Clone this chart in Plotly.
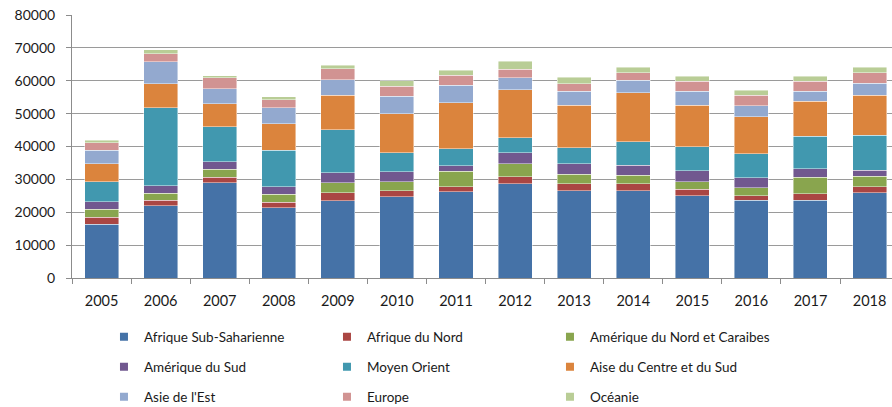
import plotly.graph_objects as go

years = ["2005", "2006", "2007", "2008", "2009", "2010", "2011",
         "2012", "2013", "2014", "2015", "2016", "2017", "2018"]

afrique_sub_saharienne = [16400, 22000, 28900, 21400, 23550, 24650, 26200, 28700, 26600, 26600, 25050, 23650, 23650, 25900]
afrique_du_nord = [2150, 1600, 1800, 1700, 2350, 1950, 1500, 2050, 2050, 2050, 1950, 1400, 1950, 1850]
amerique_nord_caraibes = [2300, 2250, 2350, 2350, 3050, 2750, 4700, 3950, 2950, 2650, 2350, 2450, 5050, 3150]
amerique_du_sud = [2350, 2250, 2250, 2350, 3050, 2950, 1800, 3350, 3150, 2950, 3350, 2950, 2550, 1900]
moyen_orient = [6100, 23650, 10750, 11050, 13100, 5800, 5100, 4650, 4850, 7200, 7300, 7300, 9850, 10650]
asie_centre_sud = [5400, 7400, 6900, 8000, 10550, 11900, 14000, 14500, 13000, 14900, 12600, 11350, 10650, 12200]
asie_est = [4150, 6700, 4550, 4900, 4650, 5300, 5400, 3750, 4150, 3850, 4150, 3350, 3050, 3550]
europe = [2250, 2350, 3350, 2450, 3350, 3050, 3050, 2550, 2350, 2250, 3150, 3150, 3150, 3250]
oceanie = [800, 1200, 700, 1000, 1100, 1600, 1500, 2450, 1950, 1650, 1500, 1500, 1500, 1650]

series = [
    ("Afrique Sub-Saharienne", afrique_sub_saharienne, "#4572A7", "legend"),
    ("Afrique du Nord", afrique_du_nord, "#AA4643", "legend"),
    ("Amérique du Nord et Caraibes", amerique_nord_caraibes, "#89A54E", "legend"),
    ("Amérique du Sud", amerique_du_sud, "#71588F", "legend2"),
    ("Moyen Orient", moyen_orient, "#4198AF", "legend2"),
    ("Aise du Centre et du Sud", asie_centre_sud, "#DB843D", "legend2"),
    ("Asie de l'Est", asie_est, "#93A9CF", "legend3"),
    ("Europe", europe, "#D19392", "legend3"),
    ("Océanie", oceanie, "#B9CD96", "legend3"),
]

FONT = "Lato"
TXT = "#1a1a1a"
fig = go.Figure()
for name, vals, color, lg in series:
    fig.add_trace(go.Bar(
        x=years, y=vals, name=name, showlegend=False,
        marker=dict(color=color, line=dict(color="rgba(255,255,255,0.55)", width=0.8)),
    ))
# legend proxies (small square swatches)
for name, vals, color, lg in series:
    fig.add_trace(go.Scatter(
        x=[None], y=[None], mode="markers", name=name, legend=lg,
        marker=dict(symbol="square", size=8, color=color),
    ))

leg_common = dict(orientation="h", entrywidth=178, entrywidthmode="pixels",
                  font=dict(family=FONT, size=13.5, color=TXT),
                  bgcolor="rgba(0,0,0,0)", itemwidth=30,
                  x=0.039, xanchor="left", yanchor="middle", traceorder="normal")

fig.update_layout(
    width=892, height=407,
    margin=dict(l=72, r=0, t=15, b=129, autoexpand=False),
    barmode="stack", bargap=0.424,
    plot_bgcolor="white", paper_bgcolor="white",
    font=dict(family=FONT, size=14, color=TXT),
    legend=dict(leg_common, y=-0.2243),
    legend2=dict(leg_common, y=-0.3384),
    legend3=dict(leg_common, y=-0.4525),
    xaxis=dict(range=[-0.5, 13.38], showgrid=False, showline=True, linecolor="#8c8c8c",
               linewidth=1, ticks="outside", tickson="boundaries", ticklen=5,
               tickcolor="#8c8c8c", ticklabelstandoff=10,
               tickfont=dict(family=FONT, size=14.5, color=TXT)),
    yaxis=dict(range=[0, 80000], dtick=10000, showgrid=True, gridcolor="#9a9a9a",
               gridwidth=1, showline=True, linecolor="#8c8c8c", linewidth=1,
               ticks="outside", ticklen=5, tickcolor="#8c8c8c", ticklabelstandoff=8,
               tickformat="d", zeroline=False,
               tickfont=dict(family=FONT, size=14, color=TXT)),
)

fig.write_html("out.html", config={"displayModeBar": False},
               post_script="document.body.style.margin='0';document.body.style.overflow='hidden';")
